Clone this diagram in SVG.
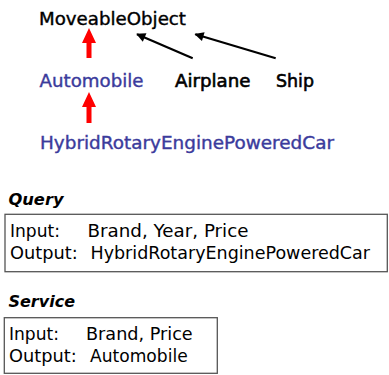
<svg xmlns="http://www.w3.org/2000/svg" width="389" height="375" viewBox="0 0 389 375">
  <style>
    text { font-family: "DejaVu Sans", "Liberation Sans", sans-serif; font-size: 18px; }
    .cls { fill: #000; stroke: #000; stroke-width: 0.4; }
    .blue { fill: #3b3b9c; stroke: #3b3b9c; stroke-width: 0.4; }
    .heavy { fill: #000; stroke: #000; stroke-width: 0.6; }
    .head { font-size: 16px; font-weight: bold; font-style: italic; fill: #000; }
    .box { fill: #fff; stroke: #555; stroke-width: 1.3; }
    .body { fill: #000; font-size: 17.5px; }
    .isa { fill: #ff0000; stroke: none; }
    .sub { stroke: #000; stroke-width: 2.2; fill: none; marker-end: url(#ah); }
  </style>
  <defs>
    <marker id="ah" viewBox="0 0 10 10" refX="9" refY="5" markerWidth="4.8" markerHeight="4.2" markerUnits="strokeWidth" orient="auto">
      <path d="M0,0 L10,5 L0,10 z" fill="#000"/>
    </marker>
  </defs>
  <rect width="389" height="375" fill="#fff"/>

  <g id="connectors">
    <polygon class="isa" points="89,28 96,43 91.5,43 91.5,58 86.5,58 86.5,43 82,43"/>
    <polygon class="isa" points="89,92 96,107 91.5,107 91.5,123 86.5,123 86.5,107 82,107"/>
    <line class="sub" x1="192.7" y1="58.3" x2="137" y2="34.2"/>
    <line class="sub" x1="275.7" y1="58.3" x2="195.3" y2="34.2"/>
  </g>

  <g id="MoveableObject">
    <text class="cls" x="39" y="24.5" textLength="147" lengthAdjust="spacingAndGlyphs">MoveableObject</text>
  </g>
  <g id="Automobile">
    <text class="blue" x="39.5" y="86.5" textLength="104" lengthAdjust="spacingAndGlyphs">Automobile</text>
  </g>
  <g id="Airplane">
    <text class="heavy" x="175" y="86.5" textLength="75.5" lengthAdjust="spacingAndGlyphs">Airplane</text>
  </g>
  <g id="Ship">
    <text class="heavy" x="276" y="86.5" textLength="38" lengthAdjust="spacingAndGlyphs">Ship</text>
  </g>
  <g id="HybridRotaryEnginePoweredCar">
    <text class="blue" x="40" y="149" textLength="294" lengthAdjust="spacingAndGlyphs">HybridRotaryEnginePoweredCar</text>
  </g>

  <g id="Query">
    <text class="head" x="8.5" y="205" textLength="55" lengthAdjust="spacingAndGlyphs">Query</text>
    <rect class="box" x="5" y="214.3" width="382.3" height="57.4"/>
    <text class="body" x="10" y="237" textLength="50" lengthAdjust="spacingAndGlyphs">Input:</text>
    <text class="body" x="87.5" y="237" textLength="161" lengthAdjust="spacingAndGlyphs">Brand, Year, Price</text>
    <text class="body" x="10" y="258.5" textLength="67.7" lengthAdjust="spacingAndGlyphs">Output:</text>
    <text class="body" x="90.5" y="258.5" textLength="279.5" lengthAdjust="spacingAndGlyphs">HybridRotaryEnginePoweredCar</text>
  </g>

  <g id="Service">
    <text class="head" x="8.5" y="306.7" textLength="66.5" lengthAdjust="spacingAndGlyphs">Service</text>
    <rect class="box" x="4.3" y="317.7" width="213" height="55.6"/>
    <text class="body" x="9" y="340" textLength="50" lengthAdjust="spacingAndGlyphs">Input:</text>
    <text class="body" x="86" y="340" textLength="106.7" lengthAdjust="spacingAndGlyphs">Brand, Price</text>
    <text class="body" x="9" y="361.7" textLength="67.7" lengthAdjust="spacingAndGlyphs">Output:</text>
    <text class="body" x="90" y="361.7" textLength="97.7" lengthAdjust="spacingAndGlyphs">Automobile</text>
  </g>
</svg>
